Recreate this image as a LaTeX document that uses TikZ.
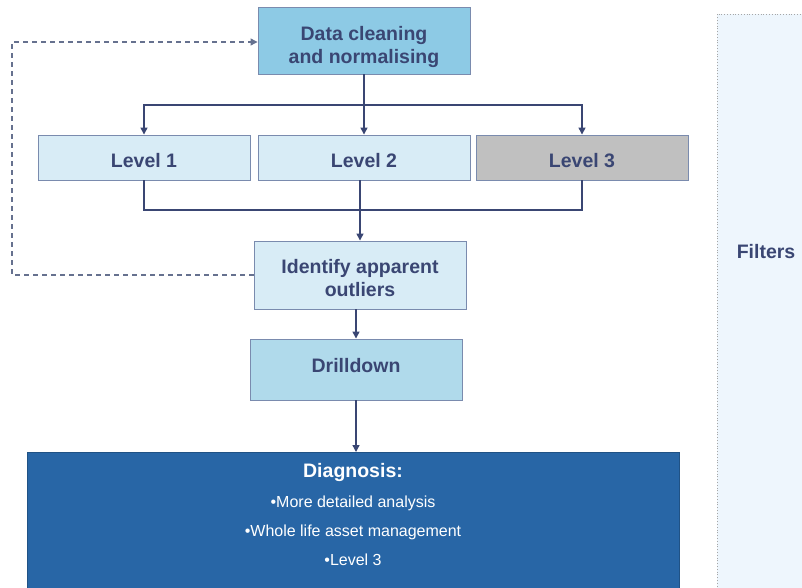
\documentclass[tikz,border=0pt]{standalone}
\usepackage{fontspec}
\setmainfont{Liberation Sans}
\usetikzlibrary{arrows.meta,calc}
\definecolor{navy}{HTML}{3A4673}
\definecolor{edgec}{HTML}{7A8BAE}
\definecolor{datafill}{HTML}{8DCAE5}
\definecolor{lightfill}{HTML}{D8ECF6}
\definecolor{drillfill}{HTML}{B0DAEB}
\definecolor{greyfill}{HTML}{C0C0C0}
\definecolor{diagfill}{HTML}{2866A6}
\definecolor{filtfill}{HTML}{EEF6FD}
\definecolor{dashc}{HTML}{66718F}
\newcommand{\twoline}[3]{\raisebox{#1}[0pt][0pt]{\begin{tabular}{@{}c@{}}#2\\#3\end{tabular}}}
\newcommand{\oneline}[2]{\raisebox{#1}[0pt][0pt]{#2}}
\tikzset{
  x=1pt, y=-1pt,
  boxs/.style={draw=edgec, line width=0.9pt, minimum width=212pt, inner sep=0pt,
    text=navy, font=\fontsize{19.5}{23}\selectfont\bfseries, align=center},
  conn/.style={draw=navy, line width=1.4pt},
  arr/.style={conn, -{Triangle[length=7pt,width=7pt]}},
  dashconn/.style={draw=dashc, line width=1.2pt, dash pattern=on 5pt off 4pt, -{Triangle[length=7pt,width=7pt]}}
}
\begin{document}
\begin{tikzpicture}
\useasboundingbox (0,0) rectangle (802,588);
\begin{scope}
\clip (0,0) rectangle (802,588);
% Filters panel
\node[fill=filtfill, minimum width=100pt, minimum height=600pt, inner sep=0pt, anchor=north west] (filt) at (717,14) {};
\draw[gray!70, line width=0.8pt, dotted] (filt.south west) -- (filt.north west) -- (filt.north east);
\node[text=navy, font=\fontsize{19.5}{23}\selectfont\bfseries] (filttext) at (766,252) {Filters};
% Diagnosis box
\node[fill=diagfill, draw=diagfill!80!black, line width=0.6pt, minimum width=652pt, minimum height=160pt, inner sep=0pt, anchor=north] (diag) at (353,452) {};
\end{scope}
\node[text=white, align=center, anchor=north, inner sep=0pt, font=\fontsize{16}{29}\selectfont] (diagtext) at (353,463)
 {{\fontsize{19.5}{23}\selectfont\bfseries Diagnosis:}\\[1pt]
  •More detailed analysis\\
  •Whole life asset management\\
  •Level 3};
% Process boxes
\node[boxs, fill=datafill, minimum height=67pt] (data) at (364,40.5) {\twoline{-12pt}{Data cleaning}{and normalising}};
\node[boxs, fill=lightfill, minimum height=45pt] (l1) at (144,157.5) {\oneline{-10pt}{Level 1}};
\node[boxs, fill=lightfill, minimum height=45pt] (l2) at (364,157.5) {\oneline{-10pt}{Level 2}};
\node[boxs, fill=greyfill, minimum height=45pt] (l3) at (582,157.5) {\oneline{-10pt}{Level 3}};
\node[boxs, fill=lightfill, minimum height=68pt] (ident) at (360,275) {\twoline{-10.5pt}{Identify apparent}{outliers}};
\node[boxs, fill=drillfill, minimum height=61pt] (drill) at (356,369.5) {\oneline{-2.5pt}{Drilldown}};
% Connectors
\coordinate (top) at (364,105);
\coordinate (bot) at (360,210);
\coordinate (dl) at (12,0);
\draw[conn] (data.south) -- (top);
\draw[arr] (top) -| (l1.north);
\draw[arr] (top) -- (l2.north);
\draw[arr] (top) -| (l3.north);
\draw[conn] (l1.south) |- (bot) -| (l3.south);
\draw[arr] (l2.south -| ident.north) -- (ident.north);
\draw[arr] (ident.south -| drill.north) -- (drill.north);
\draw[arr] (drill.south) -- (drill.south |- diag.north);
\draw[dashconn] (ident.west) -- (ident.west -| dl) |- ($(data.west)+(0,1.5)$);
\end{tikzpicture}
\end{document}
